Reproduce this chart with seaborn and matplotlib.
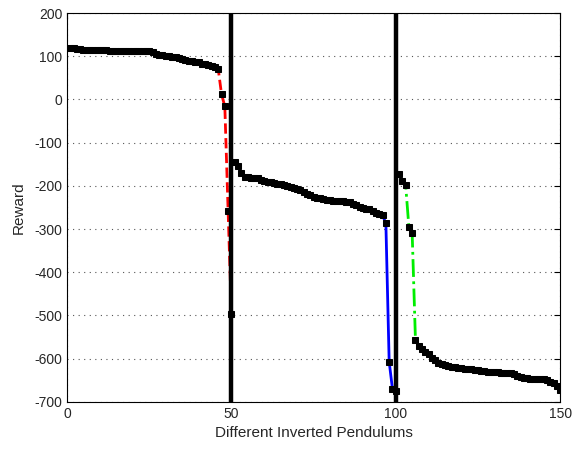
import numpy as np
import pandas as pd
import matplotlib
matplotlib.use("Agg")
import matplotlib.pyplot as plt
import seaborn as sns

# rewards, sorted, three groups of 50 pendulums
reward_a = [120, 118, 116, 116, 115, 115, 115, 114, 114, 114,
            114, 114, 113, 113, 113, 113, 113, 112, 112, 112,
            112, 112, 111, 111, 111, 110, 104, 103, 102, 101,
            100, 99, 98, 96, 94, 92, 90, 88, 87, 86,
            83, 81, 79, 77, 74, 70, 12, -16, -258, -497]
reward_b = [-144, -155, -170, -179, -180, -181, -182, -183, -186, -188,
            -190, -191, -193, -195, -196, -198, -200, -202, -204, -207,
            -209, -214, -219, -222, -225, -227, -229, -231, -232, -233,
            -234, -235, -235, -236, -237, -238, -241, -244, -250, -252,
            -253, -254, -258, -263, -266, -268, -287, -607, -670, -675]
reward_c = [-172, -189, -197, -295, -310, -557, -570, -577, -584, -590,
            -598, -604, -609, -612, -615, -617, -619, -620, -621, -622,
            -623, -624, -625, -626, -627, -628, -629, -630, -631, -631,
            -632, -633, -633, -634, -634, -636, -639, -642, -644, -645,
            -646, -647, -647, -648, -648, -650, -653, -657, -663, -672]

idx_a = list(range(1, 51))
idx_b = list(range(51, 101))
idx_c = list(range(101, 151))

groups = [(idx_a, reward_a, "red", "--"),
          (idx_b, reward_b, "blue", "-"),
          (idx_c, reward_c, "#00ee00", "-.")]

sns.set_style("white")
plt.rcParams["font.family"] = ["Liberation Sans", "DejaVu Sans"]
plt.rcParams["axes.unicode_minus"] = False

fig = plt.figure(figsize=(5.78, 4.49), dpi=100)
ax = fig.add_axes([0.116, 0.105, 0.853, 0.866])

for xs, ys, col, ls in groups:
    df = pd.DataFrame({"x": xs, "y": ys})
    sns.lineplot(data=df, x="x", y="y", ax=ax, color=col, linestyle=ls,
                 linewidth=2, marker="s", markersize=4.5,
                 markerfacecolor="k", markeredgecolor="k")

ax.axvline(50, color="k", linewidth=3.2, zorder=5)
ax.axvline(100, color="k", linewidth=3.2, zorder=5)

ax.set_xlim(0, 150)
ax.set_ylim(-700, 200)
ax.set_xticks([0, 50, 100, 150])
ax.set_yticks(np.arange(-700, 201, 100))
ax.grid(True, linestyle=(0, (1, 4)), color="#555555", linewidth=0.8)
ax.tick_params(direction="in", top=True, right=True, length=4,
               labelsize=10, color="k")
for s in ax.spines.values():
    s.set_color("k")
    s.set_linewidth(0.8)

ax.set_xlabel("Different Inverted Pendulums", fontsize=11)
ax.set_ylabel("Reward", fontsize=11, labelpad=6)

fig.savefig("out.png", dpi=100)
